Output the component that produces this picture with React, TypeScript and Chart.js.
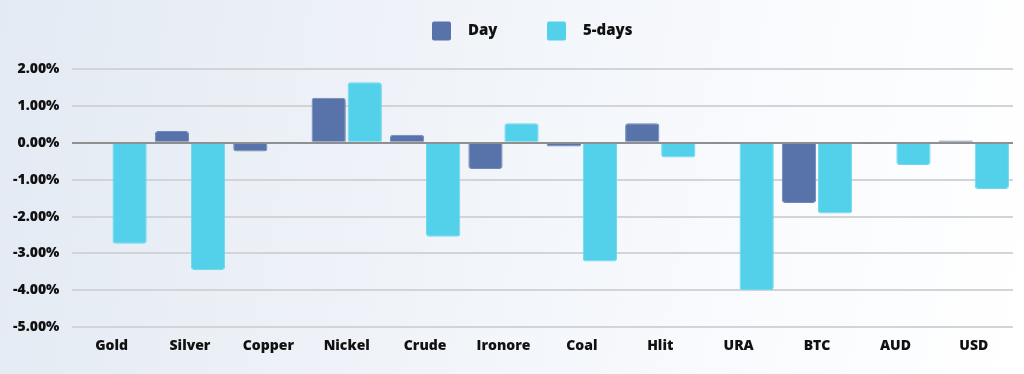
import React, { useEffect, useRef } from "react";
import { Chart, registerables } from "chart.js";

Chart.register(...registerables);

const categories = ["Gold", "Silver", "Copper", "Nickel", "Crude", "Ironore", "Coal", "Hlit", "URA", "BTC", "AUD", "USD"];
const dayValues = [0, 0.32, -0.24, 1.22, 0.22, -0.71, -0.1, 0.53, 0, -1.63, -0.01, 0.06];
const fiveDayValues = [-2.74, -3.45, -0.03, 1.64, -2.55, 0.53, -3.22, -0.4, -4.0, -1.92, -0.6, -1.25];
const seriesLabels = ["Day", "5-days"];
const seriesColors = ["#5773a9", "#53d0ea"];

const FONT = "'Open Sans', 'DejaVu Sans', sans-serif";

const legendPlugin = {
  id: "customLegend",
  afterDraw(chart: any) {
    const ctx = chart.ctx;
    ctx.save();
    ctx.font = `800 15px ${FONT}`;
    ctx.textBaseline = "middle";
    const y = 31;
    const starts = [432, 547];
    seriesLabels.forEach((label, i) => {
      const x = starts[i];
      ctx.fillStyle = seriesColors[i];
      ctx.beginPath();
      (ctx as any).roundRect(x, y - 9.5, 19, 19, 2);
      ctx.fill();
      ctx.fillStyle = "#111111";
      ctx.textAlign = "left";
      ctx.fillText(label, x + 36, y);
    });
    ctx.restore();
  },
};

export default function App() {
  const ref = useRef<HTMLCanvasElement | null>(null);
  useEffect(() => {
    if (!ref.current) return;
    const chart = new Chart(ref.current, {
      type: "bar",
      data: {
        labels: categories,
        datasets: [
          {
            label: seriesLabels[0],
            data: dayValues,
            backgroundColor: seriesColors[0],
            borderColor: "#6d87b8",
            borderWidth: 1,
            borderRadius: 3,
          },
          {
            label: seriesLabels[1],
            data: fiveDayValues,
            backgroundColor: seriesColors[1],
            borderColor: "#6bd8ee",
            borderWidth: 1,
            borderRadius: 3,
          },
        ],
      },
      plugins: [legendPlugin],
      options: {
        animation: false,
        responsive: false,
        maintainAspectRatio: false,
        layout: { padding: { top: 69, left: 0, right: 11, bottom: 10 } },
        plugins: { legend: { display: false }, tooltip: { enabled: false } },
        datasets: { bar: { categoryPercentage: 0.92, barPercentage: 0.95 } },
        scales: {
          x: {
            grid: { display: false, drawTicks: false },
            border: { display: false },
            ticks: { color: "#111111", font: { family: FONT, weight: 800, size: 14 }, padding: 10 },
          },
          y: {
            min: -5,
            max: 2,
            ticks: {
              stepSize: 1,
              color: "#111111",
              padding: 13,
              font: { family: FONT, weight: 800, size: 14 },
              callback: (v: any) => Number(v).toFixed(2) + "%",
            },
            grid: {
              drawTicks: false,
              lineWidth: 2,
              color: (c: any) => (c.tick && c.tick.value === 0 ? "#8f8f8f" : "#d2d4d8"),
            },
            border: { display: false },
          },
        },
      },
    });
    return () => chart.destroy();
  }, []);
  return (
    <div
      style={{
        position: "fixed",
        left: 0,
        top: 0,
        width: 1024,
        height: 374,
        background: "linear-gradient(100deg, #e3eaf3 0%, #eef2f8 35%, #f8fafd 70%, #ffffff 100%)",
      }}
    >
      <canvas ref={ref} width={1024} height={374} style={{ display: "block" }} />
    </div>
  );
}
